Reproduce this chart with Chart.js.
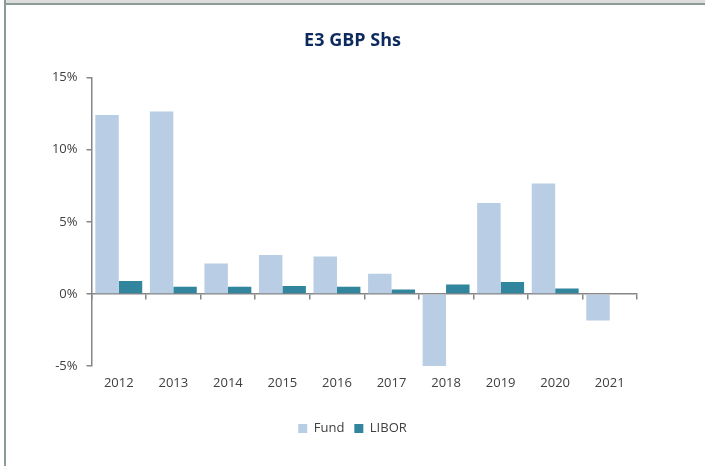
<!DOCTYPE html>
<html>
<head>
<meta charset="utf-8">
<script src="https://cdn.jsdelivr.net/npm/chart.js@4"></script>
<style>
  html, body { margin: 0; padding: 0; background: #fff; }
  #wrap { position: relative; width: 705px; height: 466px; overflow: hidden; }
  #wrap canvas { position: absolute; left: 0; top: 0; }
  .topband { position: absolute; left: 6px; top: 0; width: 699px; height: 3px; background: #dcdedd; }
  .topline { position: absolute; left: 6px; top: 3px; width: 699px; height: 2px; background: #8c9a98; }
  .leftline { position: absolute; left: 4px; top: 0; width: 2px; height: 466px; background: #8c9a98; }
</style>
</head>
<body>
<div id="wrap">
  <canvas id="fundChart" width="705" height="466"></canvas>
  <div class="topband"></div>
  <div class="topline"></div>
  <div class="leftline"></div>
</div>
<script>
const years = ['2012', '2013', '2014', '2015', '2016', '2017', '2018', '2019', '2020', '2021'];
const fundReturns = [12.4, 12.65, 2.1, 2.7, 2.6, 1.4, -5.0, 6.3, 7.65, -1.85];
const liborReturns = [0.9, 0.5, 0.5, 0.55, 0.5, 0.3, 0.65, 0.83, 0.37, null];
const yTicks = [-5, 0, 5, 10, 15];

const axisGrey = '#868686';
const textGrey = '#404040';
const baseFont = { family: "'Open Sans', 'Noto Sans', sans-serif", size: 13 };

const ctx = document.getElementById('fundChart').getContext('2d');
new Chart(ctx, {
  type: 'bar',
  data: {
    labels: years,
    datasets: [
      {
        label: 'Fund',
        data: fundReturns,
        backgroundColor: '#b9cde5',
        borderWidth: 0,
        xAxisID: 'x',
        yAxisID: 'y'
      },
      {
        label: 'LIBOR',
        data: liborReturns,
        backgroundColor: '#31859c',
        borderWidth: 0,
        xAxisID: 'x',
        yAxisID: 'y'
      }
    ]
  },
  options: {
    responsive: false,
    animation: false,
    categoryPercentage: 0.86,
    barPercentage: 1.0,
    layout: { padding: { left: 0, right: 0, top: 0, bottom: 21 } },
    scales: {
      y: {
        min: -5,
        max: 15,
        afterFit: (scale) => { scale.width = 91.5; },
        afterBuildTicks: (scale) => { scale.ticks = yTicks.map(v => ({ value: v })); },
        grid: { drawOnChartArea: false, tickLength: 5, color: axisGrey, lineWidth: 1.5 },
        border: { color: axisGrey, width: 1.5 },
        ticks: {
          color: textGrey,
          font: baseFont,
          padding: 9,
          callback: (v) => v + '%'
        }
      },
      x: {
        position: { y: 0 },
        grid: { drawOnChartArea: false, tickLength: 5, color: axisGrey, lineWidth: 1.5 },
        border: { color: axisGrey, width: 1.5 },
        ticks: { color: textGrey, font: baseFont, padding: 77, maxRotation: 0 }
      },
      // empty axes that only hold space around the plot
      spacer: {
        type: 'category',
        position: 'bottom',
        grid: { display: false },
        border: { display: false },
        ticks: { display: false },
        afterFit: (scale) => { scale.height = 46; }
      },
      rspacer: {
        type: 'linear',
        position: 'right',
        grid: { display: false },
        border: { display: false },
        ticks: { display: false },
        afterFit: (scale) => { scale.width = 62; }
      }
    },
    plugins: {
      title: {
        display: true,
        text: 'E3 GBP Shs',
        color: '#0d2a5e',
        font: { family: "'Open Sans', 'Noto Sans', sans-serif", size: 18, weight: 'bold' },
        padding: { top: 30, bottom: 26 }
      },
      legend: {
        position: 'bottom',
        labels: {
          color: textGrey,
          font: baseFont,
          boxWidth: 9,
          boxHeight: 9,
          padding: 10
        }
      },
      tooltip: { enabled: false }
    }
  }
});
</script>
</body>
</html>
